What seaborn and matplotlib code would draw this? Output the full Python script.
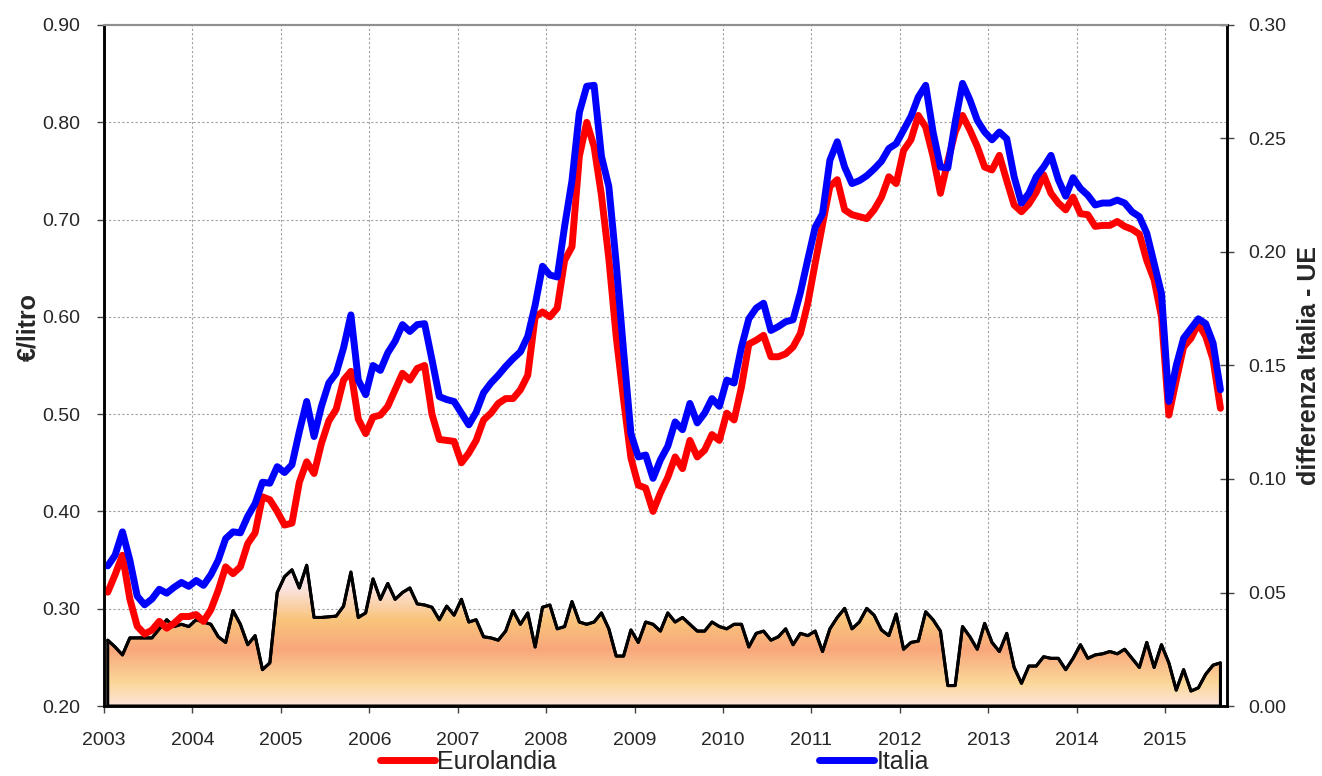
import numpy as np
import pandas as pd
import matplotlib
matplotlib.use("Agg")
import matplotlib.pyplot as plt
from matplotlib.colors import LinearSegmentedColormap
import seaborn as sns

EURO_COLOR = '#FF0000'
ITALIA_COLOR = '#0000FF'

# monthly prices (€/litro), Jan 2003 .. Aug 2015
eurolandia = [
    0.317, 0.335, 0.355, 0.310, 0.282, 0.274, 0.278, 0.287, 0.280, 0.285, 0.292, 0.292,
    0.294, 0.287, 0.299, 0.319, 0.343, 0.336, 0.343, 0.367, 0.378, 0.415, 0.412, 0.400,
    0.386, 0.388, 0.430, 0.451, 0.439, 0.470, 0.493, 0.505, 0.535, 0.544, 0.495, 0.480,
    0.497, 0.499, 0.508, 0.525, 0.542, 0.535, 0.547, 0.550, 0.500, 0.474, 0.473, 0.472,
    0.450, 0.460, 0.473, 0.494, 0.501, 0.511, 0.516, 0.516, 0.525, 0.540, 0.600, 0.605,
    0.600, 0.609, 0.658, 0.672, 0.765, 0.800, 0.775, 0.725, 0.660, 0.580, 0.515, 0.455,
    0.427, 0.424, 0.400, 0.419, 0.435, 0.456, 0.444, 0.473, 0.456, 0.463, 0.479, 0.473,
    0.501, 0.494, 0.528, 0.572, 0.576, 0.581, 0.559, 0.559, 0.562, 0.569, 0.583, 0.614,
    0.655, 0.695, 0.734, 0.741, 0.710, 0.705, 0.703, 0.701, 0.710, 0.723, 0.744, 0.737,
    0.771, 0.782, 0.807, 0.795, 0.765, 0.727, 0.760, 0.790, 0.807, 0.792, 0.775, 0.754,
    0.751, 0.766, 0.740, 0.715, 0.708, 0.716, 0.728, 0.746, 0.727, 0.717, 0.710, 0.723,
    0.706, 0.705, 0.693, 0.694, 0.694, 0.698, 0.693, 0.690, 0.685, 0.658, 0.638, 0.600,
    0.499, 0.535, 0.569, 0.578, 0.593, 0.580, 0.556, 0.506,
]

italia = [
    0.344, 0.355, 0.379, 0.350, 0.313, 0.304, 0.310, 0.320, 0.316, 0.322, 0.327, 0.323,
    0.329, 0.324, 0.335, 0.350, 0.372, 0.379, 0.378, 0.395, 0.408, 0.430, 0.429, 0.446,
    0.440, 0.448, 0.482, 0.513, 0.477, 0.508, 0.532, 0.542, 0.568, 0.602, 0.535, 0.520,
    0.550, 0.545, 0.563, 0.575, 0.592, 0.585, 0.592, 0.593, 0.556, 0.518, 0.515, 0.513,
    0.501, 0.489, 0.502, 0.522, 0.532, 0.540, 0.549, 0.557, 0.564, 0.580, 0.612, 0.652,
    0.643, 0.641, 0.693, 0.740, 0.810, 0.837, 0.838, 0.765, 0.734, 0.655, 0.565, 0.480,
    0.456, 0.458, 0.434, 0.453, 0.467, 0.492, 0.484, 0.511, 0.491, 0.501, 0.516, 0.508,
    0.535, 0.532, 0.569, 0.598, 0.609, 0.614, 0.586, 0.590, 0.595, 0.597, 0.625, 0.659,
    0.692, 0.706, 0.761, 0.780, 0.754, 0.737, 0.740, 0.745, 0.752, 0.760, 0.773, 0.778,
    0.792, 0.806, 0.826, 0.838, 0.790, 0.754, 0.753, 0.800, 0.840, 0.823, 0.802, 0.790,
    0.782, 0.790, 0.783, 0.744, 0.717, 0.727, 0.744, 0.754, 0.766, 0.741, 0.724, 0.743,
    0.732, 0.725, 0.715, 0.717, 0.717, 0.720, 0.717, 0.708, 0.703, 0.686, 0.655, 0.624,
    0.513, 0.550, 0.578, 0.588, 0.598, 0.593, 0.573, 0.525,
]

# differenza Italia - UE (right axis)
differenza = [
    0.029, 0.026, 0.0225, 0.030, 0.030, 0.030, 0.030, 0.034, 0.038, 0.035, 0.036, 0.035,
    0.038, 0.037, 0.036, 0.0305, 0.028, 0.042, 0.036, 0.027, 0.031, 0.016, 0.019, 0.050,
    0.057, 0.060, 0.052, 0.062, 0.039, 0.039, 0.0393, 0.0396, 0.044, 0.059, 0.039, 0.041,
    0.056, 0.047, 0.054, 0.047, 0.050, 0.052, 0.045, 0.0445, 0.0435, 0.038, 0.044, 0.040,
    0.047, 0.037, 0.038, 0.0305, 0.030, 0.029, 0.033, 0.042, 0.036, 0.041, 0.026, 0.0435,
    0.0445, 0.034, 0.035, 0.046, 0.037, 0.036, 0.037, 0.041, 0.034, 0.022, 0.022, 0.0335,
    0.028, 0.037, 0.036, 0.033, 0.041, 0.037, 0.039, 0.036, 0.033, 0.033, 0.037, 0.035,
    0.034, 0.036, 0.036, 0.026, 0.032, 0.033, 0.029, 0.0305, 0.034, 0.027, 0.032, 0.031,
    0.033, 0.024, 0.034, 0.039, 0.043, 0.034, 0.037, 0.043, 0.040, 0.0335, 0.031, 0.0405,
    0.025, 0.028, 0.0286, 0.0415, 0.038, 0.033, 0.009, 0.009, 0.035, 0.0305, 0.025, 0.0364,
    0.028, 0.024, 0.032, 0.017, 0.010, 0.0176, 0.0176, 0.0217, 0.021, 0.021, 0.016, 0.021,
    0.027, 0.021, 0.0225, 0.023, 0.024, 0.023, 0.025, 0.021, 0.017, 0.028, 0.017, 0.027,
    0.019, 0.007, 0.016, 0.0066, 0.008, 0.014, 0.018, 0.019,
]

years = list(range(2003, 2016))

# gradient of the area (bottom -> top, in right-axis units)
grad_stops = [0.0, 0.010, 0.025, 0.038, 0.052, 0.065]
grad_colors = ['#FDE4DA', '#FBD89A', '#F8A77B', '#F9C47C', '#FBE3E0', '#FDF2F4']

n = len(italia)
df = pd.DataFrame({
    't': 2003 + (np.arange(n) + 0.5) / 12.0,
    'Eurolandia': eurolandia,
    'Italia': italia,
    'diff': differenza,
})

sns.set_style('white')
plt.rcParams['font.family'] = ['Liberation Sans', 'DejaVu Sans']

fig = plt.figure(figsize=(13.22, 7.76), dpi=100)
ax = fig.add_axes([0.0787, 0.0902, 0.8495, 0.8776])
ax2 = ax.twinx()

# right axis sits behind, carries grid and the area
ax2.set_zorder(1)
ax.set_zorder(2)
ax.patch.set_visible(False)

x_left, x_right = 2003, 2015.70
ax.set_xlim(x_left, x_right)
ax.set_ylim(0.20, 0.90)
ax2.set_ylim(0.0, 0.30)

# gradient area clipped to the difference polygon
cmap = LinearSegmentedColormap.from_list(
    'diffgrad', list(zip(np.array(grad_stops) / grad_stops[-1], grad_colors)))
grad = np.linspace(0, 1, 256).reshape(-1, 1)
poly = ax2.fill_between(df['t'], 0, df['diff'], facecolor='none',
                        edgecolor='black', linewidth=2.2, zorder=3)
img = ax2.imshow(grad, cmap=cmap, aspect='auto', origin='lower',
                 extent=[x_left, x_right, 0, grad_stops[-1]], zorder=2)
img.set_clip_path(poly.get_paths()[0], transform=ax2.transData)
sns.lineplot(data=df, x='t', y='diff', ax=ax2, color='black', linewidth=2.2, zorder=4)
ax2.set_xlim(x_left, x_right)
ax2.set_ylim(0.0, 0.30)
ax2.set_xlabel('')

# grid: years and the left-axis levels, kept under the area
left_ticks = np.round(np.arange(0.20, 0.901, 0.10), 2)
ax2.xaxis.set_visible(True)
ax2.set_xticks(years)
ax2.tick_params(axis='x', bottom=False, top=False, labelbottom=False, labeltop=False)
ax2.set_axisbelow(True)
ax2.set_yticks((left_ticks - 0.20) / 0.70 * 0.30, minor=True)
ax2.yaxis.grid(True, which='minor', color='#A0A0A0', linestyle=(0, (2, 2)), linewidth=0.8)
ax2.yaxis.grid(False, which='major')
ax2.xaxis.grid(True, color='#A0A0A0', linestyle=(0, (2, 2)), linewidth=0.8)
ax2.tick_params(axis='y', which='minor', length=0)

# price lines
sns.lineplot(data=df, x='t', y='Eurolandia', ax=ax, color=EURO_COLOR, linewidth=5,
             label='Eurolandia', legend=False, solid_joinstyle='round', solid_capstyle='round')
sns.lineplot(data=df, x='t', y='Italia', ax=ax, color=ITALIA_COLOR, linewidth=5,
             label='Italia', legend=False, solid_joinstyle='round', solid_capstyle='round')

ax.set_xticks(years)
ax.set_xticklabels([str(y) for y in years])
ax.set_yticks(left_ticks)
ax.set_yticklabels([f'{v:.2f}' for v in left_ticks])
right_ticks = np.round(np.arange(0.0, 0.301, 0.05), 2)
ax2.set_yticks(right_ticks)
ax2.set_yticklabels([f'{v:.2f}' for v in right_ticks])

ax.tick_params(axis='both', labelsize=14, direction='out', length=5, width=1,
               color='#444444', left=True, bottom=True)
ax.tick_params(axis='y', pad=12)
ax.tick_params(axis='x', pad=14)
ax2.tick_params(axis='y', which='major', labelsize=14, direction='inout', length=10,
                width=1, color='#444444', right=True, pad=10)

ax.set_xlabel('')
ax.set_ylabel('€/litro', fontsize=18, fontweight='bold')
ax.yaxis.set_label_coords(-0.057, 0.557)
ax2.set_ylabel('differenza Italia - UE', fontsize=18, fontweight='bold', labelpad=8)

for a in (ax, ax2):
    for side in ('left', 'right', 'bottom'):
        a.spines[side].set_color('black')
        a.spines[side].set_linewidth(1.8)
    a.spines['top'].set_color('#909090')
    a.spines['top'].set_linewidth(1.5)

handles, labels = ax.get_legend_handles_labels()
fig.legend(handles, labels, loc='center', bbox_to_anchor=(0.495, 0.018), ncol=2,
           frameon=False, fontsize=18, handlelength=2.2, handletextpad=0.1,
           columnspacing=10.5)

fig.savefig('out.png', dpi=100, facecolor='white')
